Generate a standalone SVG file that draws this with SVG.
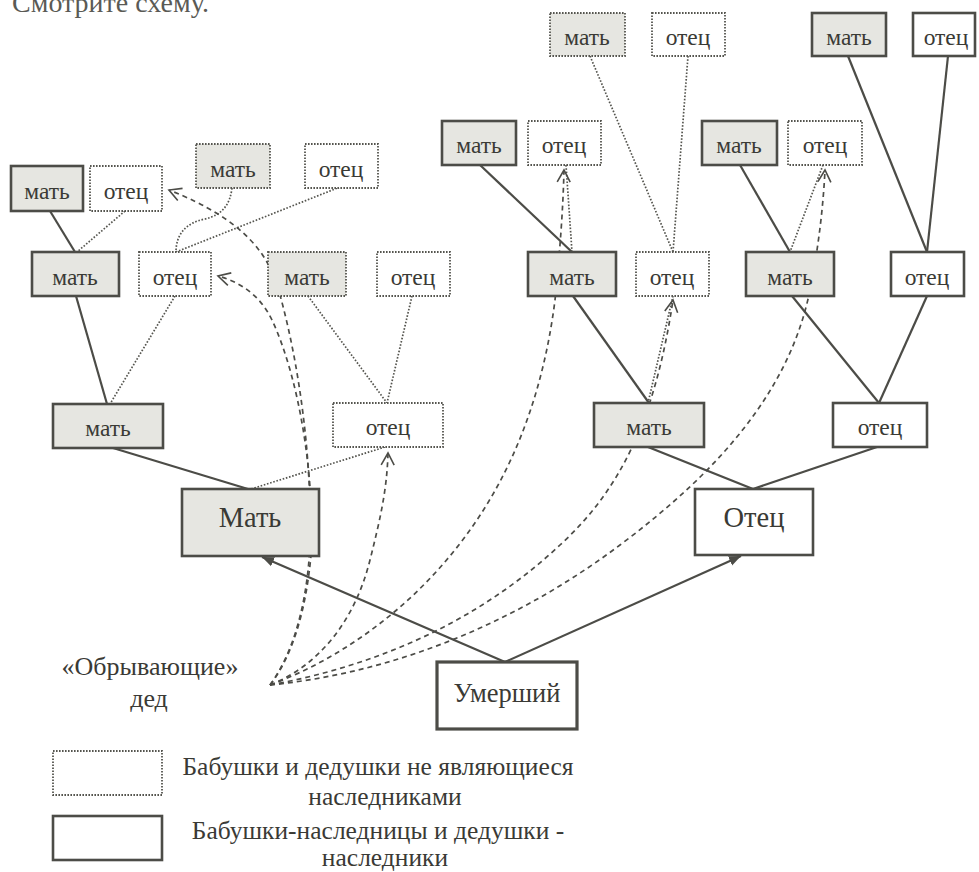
<svg xmlns="http://www.w3.org/2000/svg" width="979" height="872" viewBox="0 0 979 872">
<defs>
<style>
text { font-family: "Liberation Serif", "Times New Roman", serif; fill: #3a3a35; text-anchor: middle; }
.s { font-size: 23.5px; }
.b { font-size: 28.5px; }
.l { font-size: 25.5px; }
.heir rect { stroke: #4c4c47; stroke-width: 2.6; }
.non rect { stroke: #55554f; stroke-width: 1.8; stroke-dasharray: 1.6 1.4; }
.g rect { fill: #e6e6e1; }
.w rect { fill: #ffffff; }
.sol { stroke: #4c4c47; stroke-width: 2.2; fill: none; }
.dot { stroke: #55554f; stroke-width: 1.7; stroke-dasharray: 1.6 1.7; fill: none; }
.dash { stroke: #4c4c47; stroke-width: 1.7; stroke-dasharray: 5 4; fill: none; }
</style>
<marker id="tri" markerUnits="userSpaceOnUse" viewBox="0 -6 13 12" markerWidth="13" markerHeight="12" refX="12" refY="0" orient="auto">
<path d="M0,-5 L12,0 L0,5 Z" fill="#4c4c47"/>
</marker>
<marker id="open" markerUnits="userSpaceOnUse" viewBox="-1 -8 15 16" markerWidth="15" markerHeight="16" refX="12" refY="0" orient="auto">
<path d="M0,-6.5 L12,0 L0,6.5" fill="none" stroke="#4c4c47" stroke-width="1.6" stroke-dasharray="none"/>
</marker>
</defs>

<text x="12" y="12" style="font-size:28px;text-anchor:start;fill:#5a5a55">Смотрите схему.</text>

<g id="connectors">
<line class="sol" x1="50" y1="211" x2="75" y2="252"/>
<line class="sol" x1="76" y1="296" x2="107" y2="404"/>
<line class="sol" x1="113" y1="448" x2="248" y2="489"/>
<line class="sol" x1="480" y1="165" x2="572" y2="252"/>
<line class="sol" x1="740" y1="165" x2="790" y2="252"/>
<line class="sol" x1="848" y1="56" x2="927" y2="252"/>
<line class="sol" x1="948" y1="56" x2="927" y2="252"/>
<line class="sol" x1="573" y1="296" x2="649" y2="403"/>
<line class="sol" x1="792" y1="296" x2="879" y2="403"/>
<line class="sol" x1="927" y1="296" x2="879" y2="403"/>
<line class="sol" x1="648" y1="447" x2="753" y2="489"/>
<line class="sol" x1="877" y1="447" x2="753" y2="489"/>
<line class="sol" x1="505" y1="662" x2="262" y2="557" marker-end="url(#tri)"/>
<line class="sol" x1="505" y1="662" x2="741" y2="556" marker-end="url(#tri)"/>

<line class="dot" x1="125" y1="211" x2="77" y2="252"/>
<path class="dot" d="M232,188 C230,205 222,215 205,219 C185,223 176,235 176,252"/>
<line class="dot" x1="340" y1="187" x2="176" y2="252"/>
<line class="dot" x1="175" y1="296" x2="110" y2="404"/>
<line class="dot" x1="308" y1="296" x2="387" y2="403"/>
<line class="dot" x1="412" y1="296" x2="387" y2="403"/>
<line class="dot" x1="385" y1="447" x2="251" y2="489"/>
<line class="dot" x1="566" y1="165" x2="572" y2="252"/>
<line class="dot" x1="590" y1="56" x2="673" y2="252"/>
<line class="dot" x1="688" y1="56" x2="673" y2="252"/>
<line class="dot" x1="673" y1="296" x2="648" y2="403"/>
<line class="dot" x1="823" y1="165" x2="790" y2="252"/>

<path class="dash" d="M270,685 C292,655 305,610 309,560 C314,480 302,375 280,295 C270,255 245,220 169,190" marker-end="url(#open)"/>
<path class="dash" d="M270,685 C293,655 306,610 311,555 C315,480 300,380 272,320 C260,295 240,282 218,276" marker-end="url(#open)"/>
<path class="dash" d="M270,685 C320,665 355,620 370,560 C380,520 387,490 388,453" marker-end="url(#open)"/>
<path class="dash" d="M270,685 C350,655 420,600 470,530 C520,460 545,380 555,300 C560,250 563,210 564,170" marker-end="url(#open)"/>
<path class="dash" d="M270,685 C380,665 480,620 560,545 C620,490 655,420 673,300" marker-end="url(#open)"/>
<path class="dash" d="M270,685 C400,672 520,620 620,545 C720,470 790,390 810,290 C818,250 823,210 825,170" marker-end="url(#open)"/>
</g>

<g id="lm2" class="heir g"><rect x="11" y="166" width="72" height="45"/><text class="s" x="47" y="199">мать</text></g>
<g id="lf2" class="non w"><rect x="90" y="166" width="72" height="45"/><text class="s" x="126" y="199">отец</text></g>
<g id="lfm2" class="non g"><rect x="196" y="144" width="74" height="44"/><text class="s" x="233" y="177">мать</text></g>
<g id="lff2" class="non w"><rect x="305" y="144" width="73" height="44"/><text class="s" x="341" y="177">отец</text></g>
<g id="lm3" class="heir g"><rect x="32" y="252" width="87" height="44"/><text class="s" x="75" y="285">мать</text></g>
<g id="lf3" class="non w"><rect x="139" y="252" width="72" height="44"/><text class="s" x="175" y="285">отец</text></g>
<g id="lfm3" class="non g"><rect x="268" y="252" width="78" height="44"/><text class="s" x="307" y="285">мать</text></g>
<g id="lff3" class="non w"><rect x="377" y="252" width="73" height="44"/><text class="s" x="413" y="285">отец</text></g>
<g id="lm4" class="heir g"><rect x="53" y="404" width="110" height="44"/><text class="s" x="108" y="436">мать</text></g>
<g id="lf4" class="non w"><rect x="333" y="403" width="110" height="44"/><text class="s" x="388" y="435">отец</text></g>
<g id="mother" class="heir g"><rect x="182" y="489" width="137" height="67"/><text class="b" x="250" y="527">Мать</text></g>

<g id="rmm_m" class="heir g"><rect x="442" y="121" width="74" height="44"/><text class="s" x="479" y="153">мать</text></g>
<g id="rmm_f" class="non w"><rect x="528" y="121" width="73" height="44"/><text class="s" x="564" y="153">отец</text></g>
<g id="rmf_m" class="non g"><rect x="550" y="13" width="75" height="43"/><text class="s" x="587" y="45">мать</text></g>
<g id="rmf_f" class="non w"><rect x="652" y="13" width="73" height="43"/><text class="s" x="688" y="45">отец</text></g>
<g id="rfm_m" class="heir g"><rect x="702" y="121" width="75" height="44"/><text class="s" x="739" y="153">мать</text></g>
<g id="rfm_f" class="non w"><rect x="788" y="121" width="74" height="44"/><text class="s" x="825" y="153">отец</text></g>
<g id="rff_m" class="heir g"><rect x="812" y="13" width="74" height="43"/><text class="s" x="849" y="45">мать</text></g>
<g id="rff_f" class="heir w"><rect x="913" y="13" width="62" height="43"/><text class="s" x="946" y="45">отец</text></g>
<g id="rm3" class="heir g"><rect x="528" y="252" width="88" height="44"/><text class="s" x="572" y="285">мать</text></g>
<g id="rf3" class="non w"><rect x="636" y="252" width="73" height="44"/><text class="s" x="672" y="285">отец</text></g>
<g id="rfm3" class="heir g"><rect x="746" y="252" width="88" height="44"/><text class="s" x="790" y="285">мать</text></g>
<g id="rff3" class="heir w"><rect x="891" y="252" width="73" height="44"/><text class="s" x="927" y="285">отец</text></g>
<g id="rm4" class="heir g"><rect x="594" y="403" width="110" height="44"/><text class="s" x="649" y="435">мать</text></g>
<g id="rf4" class="heir w"><rect x="833" y="403" width="94" height="44"/><text class="s" x="880" y="435">отец</text></g>
<g id="father" class="heir w"><rect x="695" y="489" width="118" height="66"/><text class="b" x="754" y="527">Отец</text></g>

<g id="deceased" class="heir w"><rect x="437" y="662" width="140" height="67" style="stroke-width:3.2"/><text class="b" x="507" y="702" style="font-size:26.5px">Умерший</text></g>

<g id="label">
<text class="l" x="150" y="675" style="font-size:26px">«Обрывающие»</text>
<text class="l" x="149" y="707" style="font-size:26px">дед</text>
</g>

<g id="legend">
<g class="non w"><rect x="53" y="751" width="109" height="44"/></g>
<g class="heir w"><rect x="53" y="816" width="109" height="44"/></g>
<text class="l" x="378" y="775">Бабушки и дедушки не являющиеся</text>
<text class="l" x="385" y="805">наследниками</text>
<text class="l" x="378" y="839">Бабушки-наследницы и дедушки -</text>
<text class="l" x="385" y="866">наследники</text>
</g>
</svg>
